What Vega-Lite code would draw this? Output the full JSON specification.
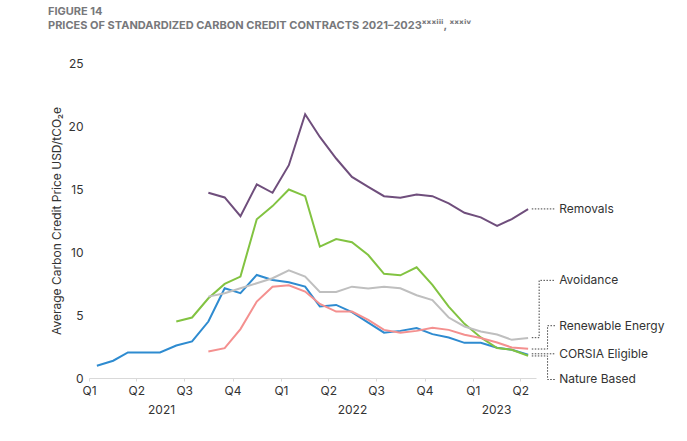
{
  "$schema": "https://vega.github.io/schema/vega-lite/v6.json",
  "width": 447,
  "height": 315,
  "autosize": {"type": "none"},
  "padding": {"left": 89, "top": 63, "right": 151, "bottom": 63},
  "background": "white",
  "config": {"font": "Inter", "view": {"stroke": null}},
  "title": {
    "text": ["FIGURE 14", "PRICES OF STANDARDIZED CARBON CREDIT CONTRACTS 2021–2023ˣˣˣⁱⁱⁱ, ˣˣˣⁱᵛ"],
    "anchor": "start",
    "frame": "group",
    "dx": -41,
    "offset": 26,
    "fontSize": 11,
    "font": "Inter",
    "fontWeight": "bold",
    "color": "#77787b",
    "lineHeight": 14
  },
  "datasets": {
    "prices": [
      {"series": "CORSIA Eligible", "date": "2021-01-16", "price": 0.97},
      {"series": "CORSIA Eligible", "date": "2021-02-16", "price": 1.37},
      {"series": "CORSIA Eligible", "date": "2021-03-16", "price": 2.03},
      {"series": "CORSIA Eligible", "date": "2021-04-16", "price": 2.03},
      {"series": "CORSIA Eligible", "date": "2021-05-16", "price": 2.03},
      {"series": "CORSIA Eligible", "date": "2021-06-16", "price": 2.58},
      {"series": "CORSIA Eligible", "date": "2021-07-16", "price": 2.9},
      {"series": "CORSIA Eligible", "date": "2021-08-16", "price": 4.48},
      {"series": "CORSIA Eligible", "date": "2021-09-16", "price": 7.12},
      {"series": "CORSIA Eligible", "date": "2021-10-16", "price": 6.73},
      {"series": "CORSIA Eligible", "date": "2021-11-16", "price": 8.18},
      {"series": "CORSIA Eligible", "date": "2021-12-16", "price": 7.78},
      {"series": "CORSIA Eligible", "date": "2022-01-16", "price": 7.6},
      {"series": "CORSIA Eligible", "date": "2022-02-16", "price": 7.25},
      {"series": "CORSIA Eligible", "date": "2022-03-16", "price": 5.67},
      {"series": "CORSIA Eligible", "date": "2022-04-16", "price": 5.8},
      {"series": "CORSIA Eligible", "date": "2022-05-16", "price": 5.23},
      {"series": "CORSIA Eligible", "date": "2022-06-16", "price": 4.4},
      {"series": "CORSIA Eligible", "date": "2022-07-16", "price": 3.6},
      {"series": "CORSIA Eligible", "date": "2022-08-16", "price": 3.74},
      {"series": "CORSIA Eligible", "date": "2022-09-16", "price": 3.96},
      {"series": "CORSIA Eligible", "date": "2022-10-16", "price": 3.48},
      {"series": "CORSIA Eligible", "date": "2022-11-16", "price": 3.21},
      {"series": "CORSIA Eligible", "date": "2022-12-16", "price": 2.79},
      {"series": "CORSIA Eligible", "date": "2023-01-16", "price": 2.79},
      {"series": "CORSIA Eligible", "date": "2023-02-16", "price": 2.4},
      {"series": "CORSIA Eligible", "date": "2023-03-16", "price": 2.24},
      {"series": "CORSIA Eligible", "date": "2023-04-16", "price": 1.84},

      {"series": "Nature Based", "date": "2021-06-16", "price": 4.48},
      {"series": "Nature Based", "date": "2021-07-16", "price": 4.8},
      {"series": "Nature Based", "date": "2021-08-16", "price": 6.33},
      {"series": "Nature Based", "date": "2021-09-16", "price": 7.47},
      {"series": "Nature Based", "date": "2021-10-16", "price": 8.05},
      {"series": "Nature Based", "date": "2021-11-16", "price": 12.6},
      {"series": "Nature Based", "date": "2021-12-16", "price": 13.64},
      {"series": "Nature Based", "date": "2022-01-16", "price": 14.96},
      {"series": "Nature Based", "date": "2022-02-16", "price": 14.43},
      {"series": "Nature Based", "date": "2022-03-16", "price": 10.42},
      {"series": "Nature Based", "date": "2022-04-16", "price": 11.03},
      {"series": "Nature Based", "date": "2022-05-16", "price": 10.77},
      {"series": "Nature Based", "date": "2022-06-16", "price": 9.76},
      {"series": "Nature Based", "date": "2022-07-16", "price": 8.27},
      {"series": "Nature Based", "date": "2022-08-16", "price": 8.15},
      {"series": "Nature Based", "date": "2022-09-16", "price": 8.79},
      {"series": "Nature Based", "date": "2022-10-16", "price": 7.39},
      {"series": "Nature Based", "date": "2022-11-16", "price": 5.67},
      {"series": "Nature Based", "date": "2022-12-16", "price": 4.3},
      {"series": "Nature Based", "date": "2023-01-16", "price": 3.22},
      {"series": "Nature Based", "date": "2023-02-16", "price": 2.38},
      {"series": "Nature Based", "date": "2023-03-16", "price": 2.24},
      {"series": "Nature Based", "date": "2023-04-16", "price": 1.77},

      {"series": "Avoidance", "date": "2021-08-16", "price": 6.46},
      {"series": "Avoidance", "date": "2021-09-16", "price": 6.73},
      {"series": "Avoidance", "date": "2021-10-16", "price": 7.12},
      {"series": "Avoidance", "date": "2021-11-16", "price": 7.52},
      {"series": "Avoidance", "date": "2021-12-16", "price": 7.92},
      {"series": "Avoidance", "date": "2022-01-16", "price": 8.55},
      {"series": "Avoidance", "date": "2022-02-16", "price": 8.05},
      {"series": "Avoidance", "date": "2022-03-16", "price": 6.83},
      {"series": "Avoidance", "date": "2022-04-16", "price": 6.83},
      {"series": "Avoidance", "date": "2022-05-16", "price": 7.25},
      {"series": "Avoidance", "date": "2022-06-16", "price": 7.1},
      {"series": "Avoidance", "date": "2022-07-16", "price": 7.25},
      {"series": "Avoidance", "date": "2022-08-16", "price": 7.12},
      {"series": "Avoidance", "date": "2022-09-16", "price": 6.57},
      {"series": "Avoidance", "date": "2022-10-16", "price": 6.18},
      {"series": "Avoidance", "date": "2022-11-16", "price": 4.8},
      {"series": "Avoidance", "date": "2022-12-16", "price": 4.09},
      {"series": "Avoidance", "date": "2023-01-16", "price": 3.69},
      {"series": "Avoidance", "date": "2023-02-16", "price": 3.45},
      {"series": "Avoidance", "date": "2023-03-16", "price": 3.03},
      {"series": "Avoidance", "date": "2023-04-16", "price": 3.17},

      {"series": "Renewable Energy", "date": "2021-08-16", "price": 2.1},
      {"series": "Renewable Energy", "date": "2021-09-16", "price": 2.37},
      {"series": "Renewable Energy", "date": "2021-10-16", "price": 3.88},
      {"series": "Renewable Energy", "date": "2021-11-16", "price": 6.07},
      {"series": "Renewable Energy", "date": "2021-12-16", "price": 7.25},
      {"series": "Renewable Energy", "date": "2022-01-16", "price": 7.36},
      {"series": "Renewable Energy", "date": "2022-02-16", "price": 6.86},
      {"series": "Renewable Energy", "date": "2022-03-16", "price": 5.88},
      {"series": "Renewable Energy", "date": "2022-04-16", "price": 5.27},
      {"series": "Renewable Energy", "date": "2022-05-16", "price": 5.27},
      {"series": "Renewable Energy", "date": "2022-06-16", "price": 4.62},
      {"series": "Renewable Energy", "date": "2022-07-16", "price": 3.82},
      {"series": "Renewable Energy", "date": "2022-08-16", "price": 3.59},
      {"series": "Renewable Energy", "date": "2022-09-16", "price": 3.74},
      {"series": "Renewable Energy", "date": "2022-10-16", "price": 3.98},
      {"series": "Renewable Energy", "date": "2022-11-16", "price": 3.82},
      {"series": "Renewable Energy", "date": "2022-12-16", "price": 3.43},
      {"series": "Renewable Energy", "date": "2023-01-16", "price": 3.17},
      {"series": "Renewable Energy", "date": "2023-02-16", "price": 2.82},
      {"series": "Renewable Energy", "date": "2023-03-16", "price": 2.42},
      {"series": "Renewable Energy", "date": "2023-04-16", "price": 2.32},

      {"series": "Removals", "date": "2021-08-16", "price": 14.7},
      {"series": "Removals", "date": "2021-09-16", "price": 14.33},
      {"series": "Removals", "date": "2021-10-16", "price": 12.85},
      {"series": "Removals", "date": "2021-11-16", "price": 15.36},
      {"series": "Removals", "date": "2021-12-16", "price": 14.7},
      {"series": "Removals", "date": "2022-01-16", "price": 16.89},
      {"series": "Removals", "date": "2022-02-16", "price": 20.93},
      {"series": "Removals", "date": "2022-03-16", "price": 19.13},
      {"series": "Removals", "date": "2022-04-16", "price": 17.42},
      {"series": "Removals", "date": "2022-05-16", "price": 15.96},
      {"series": "Removals", "date": "2022-06-16", "price": 15.17},
      {"series": "Removals", "date": "2022-07-16", "price": 14.43},
      {"series": "Removals", "date": "2022-08-16", "price": 14.3},
      {"series": "Removals", "date": "2022-09-16", "price": 14.57},
      {"series": "Removals", "date": "2022-10-16", "price": 14.43},
      {"series": "Removals", "date": "2022-11-16", "price": 13.86},
      {"series": "Removals", "date": "2022-12-16", "price": 13.11},
      {"series": "Removals", "date": "2023-01-16", "price": 12.75},
      {"series": "Removals", "date": "2023-02-16", "price": 12.08},
      {"series": "Removals", "date": "2023-03-16", "price": 12.61},
      {"series": "Removals", "date": "2023-04-16", "price": 13.4}
    ],
    "leaders": [
      {"series": "Removals", "k": 1, "date": "2023-04-23", "price": 13.42},
      {"series": "Removals", "k": 2, "date": "2023-06-07", "price": 13.42},
      {"series": "Avoidance", "k": 1, "date": "2023-04-23", "price": 3.2},
      {"series": "Avoidance", "k": 2, "date": "2023-05-07", "price": 3.2},
      {"series": "Avoidance", "k": 3, "date": "2023-05-07", "price": 7.75},
      {"series": "Avoidance", "k": 4, "date": "2023-06-07", "price": 7.75},
      {"series": "Renewable Energy", "k": 1, "date": "2023-04-23", "price": 2.3},
      {"series": "Renewable Energy", "k": 2, "date": "2023-05-23", "price": 2.3},
      {"series": "Renewable Energy", "k": 3, "date": "2023-05-23", "price": 4.15},
      {"series": "Renewable Energy", "k": 4, "date": "2023-06-07", "price": 4.15},
      {"series": "CORSIA Eligible", "k": 1, "date": "2023-04-23", "price": 1.92},
      {"series": "CORSIA Eligible", "k": 2, "date": "2023-06-07", "price": 1.92},
      {"series": "Nature Based", "k": 1, "date": "2023-04-23", "price": 1.75},
      {"series": "Nature Based", "k": 2, "date": "2023-05-23", "price": 1.75},
      {"series": "Nature Based", "k": 3, "date": "2023-05-23", "price": -0.12},
      {"series": "Nature Based", "k": 4, "date": "2023-06-07", "price": -0.12}
    ],
    "labels": [
      {"series": "Removals", "date": "2023-06-14", "price": 13.42},
      {"series": "Avoidance", "date": "2023-06-14", "price": 7.78},
      {"series": "Renewable Energy", "date": "2023-06-14", "price": 4.12},
      {"series": "CORSIA Eligible", "date": "2023-06-14", "price": 1.92},
      {"series": "Nature Based", "date": "2023-06-14", "price": -0.05}
    ]
  },
  "encoding": {
    "y": {
      "field": "price",
      "type": "quantitative",
      "scale": {"domain": [0, 25], "nice": false, "zero": false},
      "axis": {
        "title": "Average Carbon Credit Price USD/tCO₂e",
        "values": [0, 5, 10, 15, 20, 25],
        "grid": false,
        "domain": false,
        "ticks": false,
        "tickSize": 0,
        "labelPadding": 6,
        "labelFontSize": 12,
        "labelColor": "#333333",
        "titleFontSize": 12,
        "titleFontWeight": "normal",
        "titleColor": "#333333",
        "titlePadding": 5
      }
    }
  },
  "layer": [
    {
      "data": {"name": "prices"},
      "mark": {"type": "line", "strokeWidth": 2},
      "encoding": {
        "x": {
          "field": "date",
          "type": "temporal",
          "scale": {"type": "utc", "domain": [{"year": 2021, "month": 1, "date": 1, "utc": true}, {"year": 2023, "month": 5, "date": 1, "utc": true}]},
          "axis": {
            "orient": "bottom",
            "title": null,
            "values": [
              {"year": 2021, "month": 1, "date": 1, "utc": true},
              {"year": 2021, "month": 4, "date": 1, "utc": true},
              {"year": 2021, "month": 7, "date": 1, "utc": true},
              {"year": 2021, "month": 10, "date": 1, "utc": true},
              {"year": 2022, "month": 1, "date": 1, "utc": true},
              {"year": 2022, "month": 4, "date": 1, "utc": true},
              {"year": 2022, "month": 7, "date": 1, "utc": true},
              {"year": 2022, "month": 10, "date": 1, "utc": true},
              {"year": 2023, "month": 1, "date": 1, "utc": true},
              {"year": 2023, "month": 4, "date": 1, "utc": true}
            ],
            "labelExpr": "'Q' + utcquarter(datum.value)",
            "grid": false,
            "domainColor": "#d9d9d9",
            "tickColor": "#d9d9d9",
            "tickSize": 3,
            "labelPadding": 4,
            "labelFlush": false,
            "labelOverlap": false,
            "labelFontSize": 12,
            "labelColor": "#333333"
          }
        },
        "color": {
          "field": "series",
          "type": "nominal",
          "scale": {
            "domain": ["Removals", "Avoidance", "Renewable Energy", "CORSIA Eligible", "Nature Based"],
            "range": ["#6f4e7c", "#bfbfbf", "#f4908f", "#2e8bd0", "#82c341"]
          },
          "legend": null
        }
      }
    },
    {
      "data": {"name": "leaders"},
      "mark": {"type": "line", "strokeWidth": 1, "strokeDash": [1.5, 1.5], "color": "#444444"},
      "encoding": {
        "x": {
          "field": "date",
          "type": "temporal",
          "scale": {"type": "utc", "domain": [{"year": 2021, "month": 1, "date": 1, "utc": true}, {"year": 2023, "month": 5, "date": 1, "utc": true}]},
          "axis": {
            "orient": "bottom",
            "title": null,
            "values": [
              {"year": 2021, "month": 5, "date": 18, "utc": true},
              {"year": 2022, "month": 5, "date": 16, "utc": true},
              {"year": 2023, "month": 2, "date": 14, "utc": true}
            ],
            "labelExpr": "'' + utcyear(datum.value)",
            "grid": false,
            "domain": false,
            "ticks": false,
            "tickSize": 0,
            "offset": 22,
            "labelPadding": 4,
            "labelFlush": false,
            "labelOverlap": false,
            "labelFontSize": 12,
            "labelColor": "#333333"
          }
        },
        "detail": {"field": "series", "type": "nominal"},
        "order": {"field": "k", "type": "quantitative"}
      }
    },
    {
      "data": {"name": "labels"},
      "mark": {"type": "text", "align": "left", "baseline": "middle", "fontSize": 12, "color": "#333333"},
      "encoding": {
        "x": {
          "field": "date",
          "type": "temporal",
          "scale": {"type": "utc", "domain": [{"year": 2021, "month": 1, "date": 1, "utc": true}, {"year": 2023, "month": 5, "date": 1, "utc": true}]},
          "axis": null
        },
        "text": {"field": "series", "type": "nominal"}
      }
    }
  ],
  "resolve": {"axis": {"x": "independent"}}
}
